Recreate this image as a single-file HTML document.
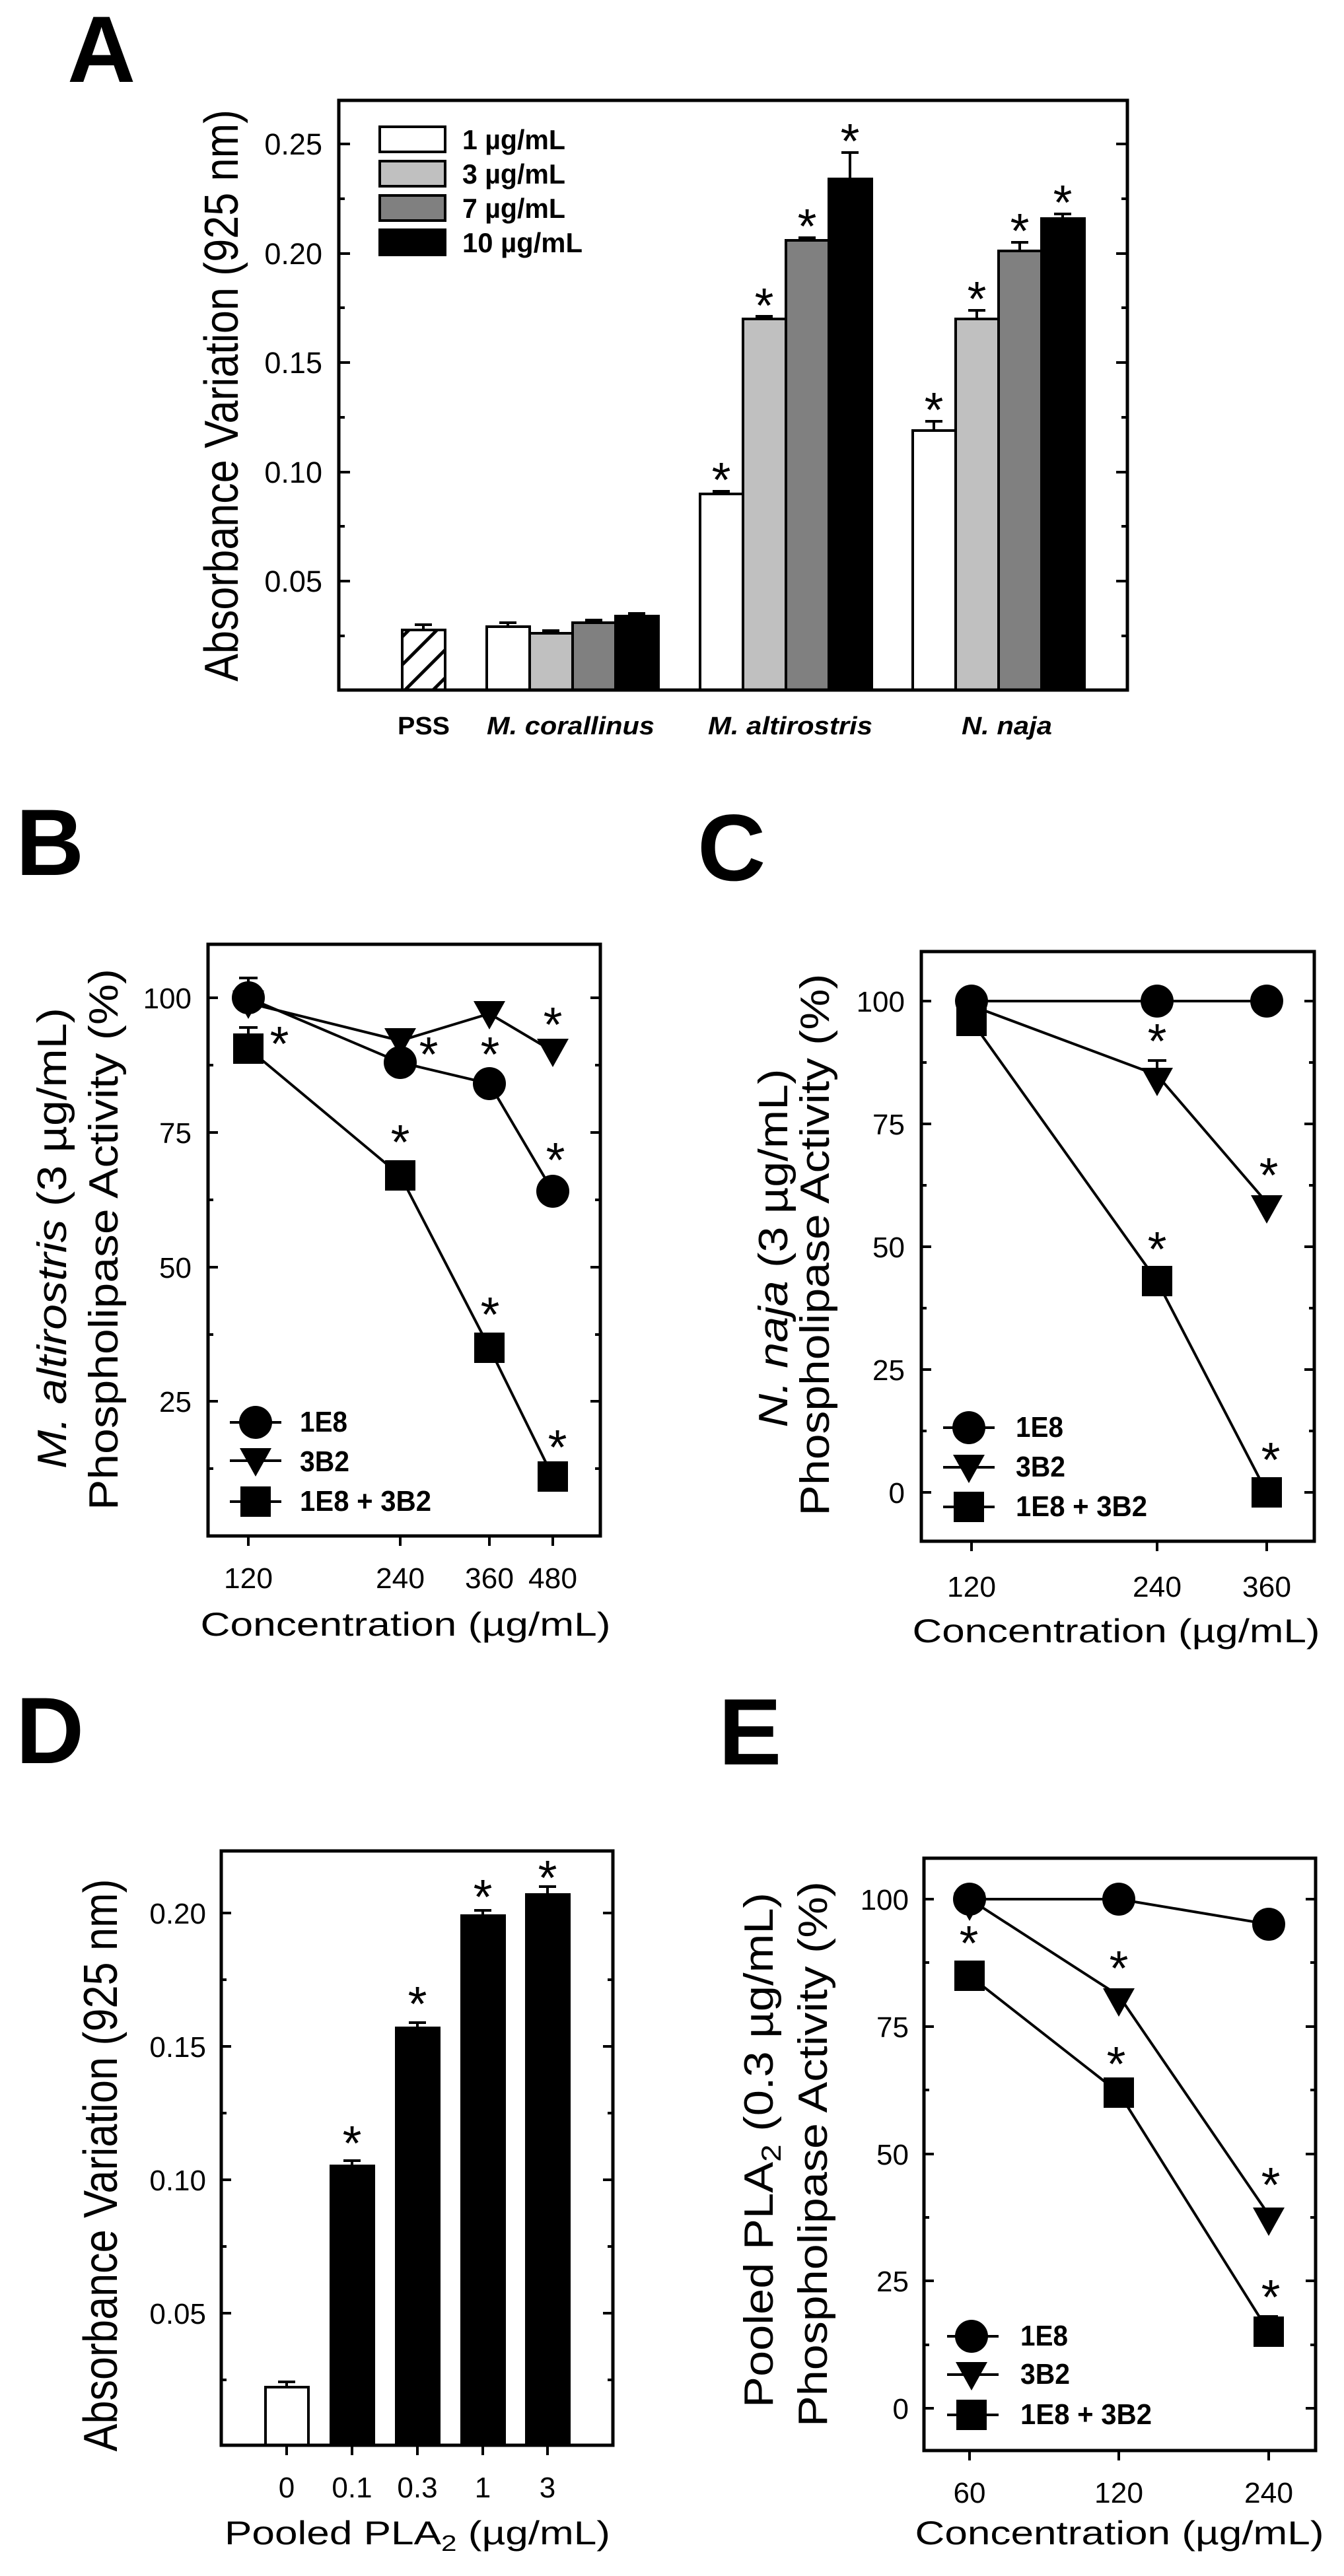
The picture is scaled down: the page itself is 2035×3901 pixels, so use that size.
<!DOCTYPE html>
<html><head><meta charset="utf-8"><style>html,body{margin:0;padding:0;background:#fff}svg{display:block}</style></head>
<body>
<svg xmlns="http://www.w3.org/2000/svg" width="2035" height="3901" viewBox="0 0 2035 3901" font-family="Liberation Sans, Arial, sans-serif">
<defs>
<pattern id="hatch" patternUnits="userSpaceOnUse" width="30" height="30" patternTransform="rotate(45)">
<rect width="30" height="30" fill="#fff"/><line x1="0" y1="0" x2="0" y2="30" stroke="#000" stroke-width="10"/>
</pattern>
</defs>
<rect width="2035" height="3901" fill="#fff"/>

<g font-weight="bold" font-size="143">
<text x="102" y="124">A</text>
<text x="24" y="1325">B</text>
<text x="1056" y="1333">C</text>
<text x="24" y="2670">D</text>
<text x="1088" y="2672">E</text>
</g>

<!-- ============ PANEL A ============ -->
<g stroke="#000" stroke-width="4">
<g>
<line x1="513" y1="218" x2="530" y2="218"/><line x1="513" y1="384" x2="530" y2="384"/><line x1="513" y1="549" x2="530" y2="549"/><line x1="513" y1="715" x2="530" y2="715"/><line x1="513" y1="880" x2="530" y2="880"/>
<line x1="513" y1="301" x2="522" y2="301"/><line x1="513" y1="466" x2="522" y2="466"/><line x1="513" y1="632" x2="522" y2="632"/><line x1="513" y1="797" x2="522" y2="797"/><line x1="513" y1="963" x2="522" y2="963"/>
<line x1="1707" y1="218" x2="1690" y2="218"/><line x1="1707" y1="384" x2="1690" y2="384"/><line x1="1707" y1="549" x2="1690" y2="549"/><line x1="1707" y1="715" x2="1690" y2="715"/><line x1="1707" y1="880" x2="1690" y2="880"/>
<line x1="1707" y1="301" x2="1698" y2="301"/><line x1="1707" y1="466" x2="1698" y2="466"/><line x1="1707" y1="632" x2="1698" y2="632"/><line x1="1707" y1="797" x2="1698" y2="797"/><line x1="1707" y1="963" x2="1698" y2="963"/>
</g>
<rect x="609" y="954" width="65" height="91" fill="url(#hatch)"/>
<rect x="737" y="949" width="65" height="96" fill="#fff"/>
<rect x="802" y="959" width="65" height="86" fill="#c0c0c0"/>
<rect x="867" y="943" width="65" height="102" fill="#808080"/>
<rect x="932" y="933" width="65" height="112" fill="#000"/>
<rect x="1060" y="748" width="65" height="297" fill="#fff"/>
<rect x="1125" y="483" width="65" height="562" fill="#c0c0c0"/>
<rect x="1190" y="364" width="65" height="681" fill="#808080"/>
<rect x="1255" y="271" width="65" height="774" fill="#000"/>
<rect x="1382" y="652" width="65" height="393" fill="#fff"/>
<rect x="1447" y="483" width="65" height="562" fill="#c0c0c0"/>
<rect x="1512" y="380" width="65" height="665" fill="#808080"/>
<rect x="1577" y="331" width="65" height="714" fill="#000"/>
<path d="M641 954V946M628 946H654 M769 949V943M756 943H782 M834 959V955M821 955H847 M899 943V939M886 939H912 M964 933V929M951 929H977
M1092 748V744M1079 744H1105 M1157 483V479M1144 479H1170 M1222 364V360M1209 360H1235 M1287 271V231M1274 231H1300
M1414 652V638M1401 638H1427 M1479 483V470M1466 470H1492 M1544 380V367M1531 367H1557 M1609 331V324M1596 324H1622" fill="none"/>
<rect x="575" y="192" width="99" height="38" fill="#fff"/>
<rect x="575" y="244" width="99" height="38" fill="#c0c0c0"/>
<rect x="575" y="296" width="99" height="38" fill="#808080"/>
<rect x="575" y="348" width="99" height="38" fill="#000"/>
<rect x="513" y="152" width="1194" height="893" fill="none" stroke-width="5"/>
</g>
<g font-size="42" font-weight="bold">
<text x="700" y="226" textLength="156" lengthAdjust="spacingAndGlyphs">1 µg/mL</text>
<text x="700" y="278" textLength="156" lengthAdjust="spacingAndGlyphs">3 µg/mL</text>
<text x="700" y="330" textLength="156" lengthAdjust="spacingAndGlyphs">7 µg/mL</text>
<text x="700" y="382" textLength="182" lengthAdjust="spacingAndGlyphs">10 µg/mL</text>
</g>
<g font-size="45" text-anchor="end">
<text x="488" y="234">0.25</text><text x="488" y="400">0.20</text><text x="488" y="565">0.15</text><text x="488" y="731">0.10</text><text x="488" y="896">0.05</text>
</g>
<text transform="translate(360,599) rotate(-90)" font-size="72" text-anchor="middle" textLength="866" lengthAdjust="spacingAndGlyphs">Absorbance Variation (925 nm)</text>
<g font-size="38" font-weight="bold">
<text x="602" y="1112" textLength="79" lengthAdjust="spacingAndGlyphs">PSS</text>
<text x="737" y="1112" font-style="italic" textLength="254" lengthAdjust="spacingAndGlyphs">M. corallinus</text>
<text x="1072" y="1112" font-style="italic" textLength="249" lengthAdjust="spacingAndGlyphs">M. altirostris</text>
<text x="1456" y="1112" font-style="italic" textLength="137" lengthAdjust="spacingAndGlyphs">N. naja</text>
</g>
<g font-size="74" text-anchor="middle">
<text x="1092" y="752">*</text><text x="1157" y="488">*</text><text x="1222" y="368">*</text><text x="1287" y="239">*</text>
<text x="1414" y="646">*</text><text x="1479" y="478">*</text><text x="1544" y="375">*</text><text x="1609" y="332">*</text>
</g>

<!-- ============ PANEL B ============ -->
<g stroke="#000" stroke-width="4" fill="none">
<path d="M315 1511h15M315 1715h15M315 1919h15M315 2122h15 M315 1613h8M315 1817h8M315 2021h8M315 2224h8
M909 1511h-15M909 1715h-15M909 1919h-15M909 2122h-15 M909 1613h-8M909 1817h-8M909 2021h-8M909 2224h-8
M376 2326v15M606 2326v15M741 2326v15M837 2326v15"/>
<rect x="315" y="1430" width="594" height="896" stroke-width="5"/>
<polyline points="376,1511 606,1609 741,1641 837,1804"/>
<polyline points="376,1519 606,1576 741,1535 837,1592"/>
<polyline points="376,1588 606,1780 741,2041 837,2236"/>
<path d="M376 1511V1481M362 1481H390 M376 1588V1556M362 1556H390 M606 1780V1760M592 1760H620"/>
<path d="M348 2154H426M348 2212H426M348 2274H426"/>
</g>
<g fill="#000">
<polygon points="352,1500 400,1500 376,1543"/><polygon points="582,1557 630,1557 606,1600"/><polygon points="717,1516 765,1516 741,1559"/><polygon points="813,1573 861,1573 837,1616"/>
<circle cx="376" cy="1511" r="25"/><circle cx="606" cy="1609" r="25"/><circle cx="741" cy="1641" r="25"/><circle cx="837" cy="1804" r="25"/>
<rect x="353" y="1565" width="46" height="46"/><rect x="583" y="1757" width="46" height="46"/><rect x="718" y="2018" width="46" height="46"/><rect x="814" y="2213" width="46" height="46"/>
<circle cx="387" cy="2154" r="25"/><polygon points="363,2193 411,2193 387,2236"/><rect x="364" y="2251" width="46" height="46"/>
</g>
<g font-size="44" font-weight="bold">
<text x="454" y="2168" textLength="72" lengthAdjust="spacingAndGlyphs">1E8</text>
<text x="454" y="2228" textLength="75" lengthAdjust="spacingAndGlyphs">3B2</text>
<text x="454" y="2288" textLength="199" lengthAdjust="spacingAndGlyphs">1E8 + 3B2</text>
</g>
<g font-size="44" text-anchor="end">
<text x="290" y="1527">100</text><text x="290" y="1731">75</text><text x="290" y="1935">50</text><text x="290" y="2138">25</text>
</g>
<g font-size="44" text-anchor="middle">
<text x="376" y="2405" textLength="74" lengthAdjust="spacingAndGlyphs">120</text><text x="606" y="2405" textLength="74" lengthAdjust="spacingAndGlyphs">240</text><text x="741" y="2405" textLength="74" lengthAdjust="spacingAndGlyphs">360</text><text x="837" y="2405" textLength="74" lengthAdjust="spacingAndGlyphs">480</text>
</g>
<text x="614" y="2477" font-size="50" text-anchor="middle" textLength="621" lengthAdjust="spacingAndGlyphs">Concentration (µg/mL)</text>
<text transform="translate(100,1875) rotate(-90)" font-size="62" text-anchor="middle" textLength="698" lengthAdjust="spacingAndGlyphs"><tspan font-style="italic">M. altirostris</tspan> (3 µg/mL)</text>
<text transform="translate(178,1877) rotate(-90)" font-size="62" text-anchor="middle" textLength="820" lengthAdjust="spacingAndGlyphs">Phospholipase Activity (%)</text>
<g font-size="74" text-anchor="middle">
<text x="423" y="1606">*</text><text x="649" y="1622">*</text><text x="606" y="1755">*</text><text x="742" y="1622">*</text><text x="837" y="1577">*</text><text x="841" y="1782">*</text><text x="742" y="2016">*</text><text x="844" y="2217">*</text>
</g>

<!-- ============ PANEL C ============ -->
<g stroke="#000" stroke-width="4" fill="none">
<path d="M1395 1516h15M1395 1702h15M1395 1888h15M1395 2074h15M1395 2260h15 M1395 1609h8M1395 1795h8M1395 1981h8M1395 2167h8
M1990 1516h-15M1990 1702h-15M1990 1888h-15M1990 2074h-15M1990 2260h-15 M1990 1609h-8M1990 1795h-8M1990 1981h-8M1990 2167h-8
M1471 2334v15M1752 2334v15M1918 2334v15"/>
<rect x="1395" y="1441" width="595" height="893" stroke-width="5"/>
<polyline points="1471,1516 1752,1516 1918,1516"/>
<polyline points="1471,1523 1752,1628 1918,1821"/>
<polyline points="1471,1546 1752,1940 1918,2260"/>
<path d="M1752 1628V1606M1738 1606H1766"/>
<path d="M1428 2162H1506M1428 2222H1506M1428 2282H1506"/>
</g>
<g fill="#000">
<polygon points="1447,1512 1495,1512 1471,1555"/><polygon points="1728,1617 1776,1617 1752,1660"/><polygon points="1894,1810 1942,1810 1918,1853"/>
<rect x="1448" y="1523" width="46" height="46"/><rect x="1729" y="1917" width="46" height="46"/><rect x="1895" y="2237" width="46" height="46"/>
<circle cx="1471" cy="1516" r="25"/><circle cx="1752" cy="1516" r="25"/><circle cx="1918" cy="1516" r="25"/>
<circle cx="1467" cy="2162" r="25"/><polygon points="1443,2203 1491,2203 1467,2246"/><rect x="1444" y="2259" width="46" height="46"/>
</g>
<g font-size="44" font-weight="bold">
<text x="1538" y="2176" textLength="72" lengthAdjust="spacingAndGlyphs">1E8</text>
<text x="1538" y="2236" textLength="75" lengthAdjust="spacingAndGlyphs">3B2</text>
<text x="1538" y="2296" textLength="199" lengthAdjust="spacingAndGlyphs">1E8 + 3B2</text>
</g>
<g font-size="44" text-anchor="end">
<text x="1370" y="1532">100</text><text x="1370" y="1718">75</text><text x="1370" y="1904">50</text><text x="1370" y="2090">25</text><text x="1370" y="2276">0</text>
</g>
<g font-size="44" text-anchor="middle">
<text x="1471" y="2418" textLength="74" lengthAdjust="spacingAndGlyphs">120</text><text x="1752" y="2418" textLength="74" lengthAdjust="spacingAndGlyphs">240</text><text x="1918" y="2418" textLength="74" lengthAdjust="spacingAndGlyphs">360</text>
</g>
<text x="1690" y="2487" font-size="50" text-anchor="middle" textLength="617" lengthAdjust="spacingAndGlyphs">Concentration (µg/mL)</text>
<text transform="translate(1192,1890) rotate(-90)" font-size="62" text-anchor="middle" textLength="543" lengthAdjust="spacingAndGlyphs"><tspan font-style="italic">N. naja</tspan> (3 µg/mL)</text>
<text transform="translate(1255,1885) rotate(-90)" font-size="62" text-anchor="middle" textLength="821" lengthAdjust="spacingAndGlyphs">Phospholipase Activity (%)</text>
<g font-size="74" text-anchor="middle">
<text x="1752" y="1602">*</text><text x="1921" y="1805">*</text><text x="1752" y="1917">*</text><text x="1924" y="2236">*</text>
</g>

<!-- ============ PANEL D ============ -->
<g stroke="#000" stroke-width="4">
<path d="M335 2897h15M335 3099h15M335 3301h15M335 3503h15 M335 2998h8M335 3200h8M335 3402h8M335 3604h8
M928 2897h-15M928 3099h-15M928 3301h-15M928 3503h-15 M928 2998h-8M928 3200h-8M928 3402h-8M928 3604h-8
M434 3703v15M533 3703v15M632 3703v15M731 3703v15M829 3703v15" fill="none"/>
<rect x="402" y="3615" width="65" height="88" fill="#fff"/>
<rect x="501" y="3280" width="65" height="423" fill="#000"/>
<rect x="600" y="3071" width="65" height="632" fill="#000"/>
<rect x="699" y="2901" width="65" height="802" fill="#000"/>
<rect x="797" y="2869" width="65" height="834" fill="#000"/>
<path d="M434 3615V3607M421 3607H447 M533 3280V3272M520 3272H546 M632 3071V3063M619 3063H645 M731 2901V2893M718 2893H744 M829 2869V2857M816 2857H842" fill="none"/>
<rect x="335" y="2803" width="593" height="900" fill="none" stroke-width="5"/>
</g>
<g font-size="44" text-anchor="end">
<text x="312" y="2913">0.20</text><text x="312" y="3115">0.15</text><text x="312" y="3317">0.10</text><text x="312" y="3519">0.05</text>
</g>
<g font-size="44" text-anchor="middle">
<text x="434" y="3782">0</text><text x="533" y="3782">0.1</text><text x="632" y="3782">0.3</text><text x="731" y="3782">1</text><text x="829" y="3782">3</text>
</g>
<text x="632" y="3853" font-size="50" text-anchor="middle" textLength="584" lengthAdjust="spacingAndGlyphs">Pooled PLA<tspan font-size="34" dy="10">2</tspan><tspan dy="-10"> (µg/mL)</tspan></text>
<text transform="translate(177,3279) rotate(-90)" font-size="72" text-anchor="middle" textLength="867" lengthAdjust="spacingAndGlyphs">Absorbance Variation (925 nm)</text>
<g font-size="74" text-anchor="middle">
<text x="533" y="3271">*</text><text x="632" y="3060">*</text><text x="731" y="2898">*</text><text x="829" y="2869">*</text>
</g>

<!-- ============ PANEL E ============ -->
<g stroke="#000" stroke-width="4" fill="none">
<path d="M1399 2876h15M1399 3069h15M1399 3262h15M1399 3454h15M1399 3647h15 M1399 2972h8M1399 3165h8M1399 3358h8M1399 3551h8
M1992 2876h-15M1992 3069h-15M1992 3262h-15M1992 3454h-15M1992 3647h-15 M1992 2972h-8M1992 3165h-8M1992 3358h-8M1992 3551h-8
M1468 3711v15M1694 3711v15M1921 3711v15"/>
<rect x="1399" y="2814" width="593" height="897" stroke-width="5"/>
<polyline points="1468,2876 1694,2876 1921,2914"/>
<polyline points="1468,2876 1694,3022 1921,3354"/>
<polyline points="1468,2992 1694,3169 1921,3531"/>
<path d="M1921 3531V3508M1907 3508H1935"/>
<path d="M1434 3538H1512M1434 3596H1512M1434 3657H1512"/>
</g>
<g fill="#000">
<polygon points="1444,2866 1492,2866 1468,2909"/><polygon points="1670,3011 1718,3011 1694,3054"/><polygon points="1897,3343 1945,3343 1921,3386"/>
<rect x="1445" y="2969" width="46" height="46"/><rect x="1671" y="3146" width="46" height="46"/><rect x="1898" y="3508" width="46" height="46"/>
<circle cx="1468" cy="2876" r="25"/><circle cx="1694" cy="2876" r="25"/><circle cx="1921" cy="2914" r="25"/>
<circle cx="1471" cy="3538" r="25"/><polygon points="1447,3577 1495,3577 1471,3620"/><rect x="1448" y="3634" width="46" height="46"/>
</g>
<g font-size="44" font-weight="bold">
<text x="1545" y="3552" textLength="72" lengthAdjust="spacingAndGlyphs">1E8</text>
<text x="1545" y="3610" textLength="75" lengthAdjust="spacingAndGlyphs">3B2</text>
<text x="1545" y="3671" textLength="199" lengthAdjust="spacingAndGlyphs">1E8 + 3B2</text>
</g>
<g font-size="44" text-anchor="end">
<text x="1376" y="2892">100</text><text x="1376" y="3085">75</text><text x="1376" y="3278">50</text><text x="1376" y="3470">25</text><text x="1376" y="3663">0</text>
</g>
<g font-size="44" text-anchor="middle">
<text x="1468" y="3790">60</text><text x="1694" y="3790" textLength="74" lengthAdjust="spacingAndGlyphs">120</text><text x="1921" y="3790" textLength="74" lengthAdjust="spacingAndGlyphs">240</text>
</g>
<text x="1695" y="3853" font-size="50" text-anchor="middle" textLength="619" lengthAdjust="spacingAndGlyphs">Concentration (µg/mL)</text>
<text transform="translate(1170,3256) rotate(-90)" font-size="62" text-anchor="middle" textLength="780" lengthAdjust="spacingAndGlyphs">Pooled PLA<tspan font-size="42" dy="12">2</tspan><tspan dy="-12"> (0.3 µg/mL)</tspan></text>
<text transform="translate(1252,3262) rotate(-90)" font-size="62" text-anchor="middle" textLength="826" lengthAdjust="spacingAndGlyphs">Phospholipase Activity (%)</text>
<g font-size="74" text-anchor="middle">
<text x="1467" y="2968">*</text><text x="1694" y="3006">*</text><text x="1690" y="3151">*</text><text x="1924" y="3334">*</text><text x="1924" y="3504">*</text>
</g>
</svg>
</body></html>
